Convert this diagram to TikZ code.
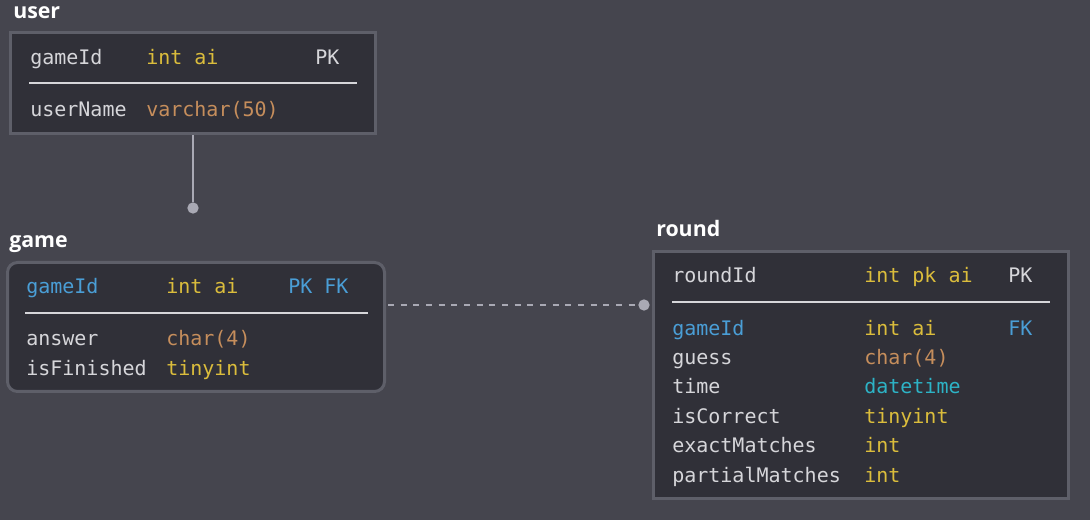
\documentclass[tikz,border=0pt]{standalone}
\usepackage{fontspec}
\setmainfont{Open Sans}
\setmonofont{DejaVu Sans Mono}
\usetikzlibrary{positioning}
\definecolor{ERBack}{HTML}{45454E}
\definecolor{ERPanel}{HTML}{303038}
\definecolor{ERBorder}{HTML}{5E5F69}
\definecolor{ERText}{HTML}{D6D6DA}
\definecolor{ERYellow}{HTML}{DBBD3C}
\definecolor{EROrange}{HTML}{C68E5C}
\definecolor{ERCyan}{HTML}{2DB3C6}
\definecolor{ERBlue}{HTML}{4A9ED6}
\definecolor{ERLink}{HTML}{A9A9B4}

\begin{document}
\begin{tikzpicture}[
    x=0.75pt, y=-0.75pt,
    tbl/.style={
      draw=ERBorder,
      fill=ERPanel,
      line width=2.25pt,
      inner sep=0pt
    },
    ttl/.style={
      anchor=mid west,
      inner sep=0pt,
      yshift=-3pt,
      text=white,
      font=\bfseries\fontsize{16}{19}\selectfont
    },
    fld/.style={
      anchor=mid west,
      inner sep=0pt,
      yshift=-3pt,
      text=#1,
      font=\ttfamily\fontsize{15}{18}\selectfont
    },
    fld/.default=ERText,
    sep/.style={
      draw=ERText,
      line width=1.5pt
    },
    dot/.style={
      circle,
      fill=ERLink,
      inner sep=0pt,
      minimum size=8.5pt
    },
    link/.style={
      draw=ERLink,
      line width=1.5pt
    }
  ]

  % canvas
  \fill[ERBack] (0,0) rectangle (1090,520);
  \useasboundingbox (0,0) rectangle (1090,520);

  % user
  \node[ttl] (userT) at (13,11) {user};
  \node[tbl, minimum width=273.75pt, minimum height=75.75pt] (user) at (193,83) {};
  \node[fld]          (u1n) at (30,57)  {gameId};
  \node[fld=ERYellow] (u1t) at (146,57) {int ai};
  \node[fld]          (u1k) at (315,57) {PK};
  \draw[sep] (29,83) -- (357,83);
  \node[fld]          (u2n) at (30,109)  {userName};
  \node[fld=EROrange] (u2t) at (146,109) {varchar(50)};

  % game
  \node[ttl] (gameT) at (9,240) {game};
  \node[tbl, rounded corners=7.5pt, minimum width=282.75pt, minimum height=96.75pt] (game) at (196,327) {};
  \node[fld=ERBlue]   (g1n) at (26,286)  {gameId};
  \node[fld=ERYellow] (g1t) at (166,286) {int ai};
  \node[fld=ERBlue]   (g1k) at (288,286) {PK FK};
  \draw[sep] (25,313) -- (368,313);
  \node[fld]          (g2n) at (26,338)  {answer};
  \node[fld=EROrange] (g2t) at (166,338) {char(4)};
  \node[fld]          (g3n) at (26,368)  {isFinished};
  \node[fld=ERYellow] (g3t) at (166,368) {tinyint};

  % round
  \node[ttl] (roundT) at (656,229) {round};
  \node[tbl, minimum width=311.25pt, minimum height=185.25pt] (round) at (861,375) {};
  \node[fld]          (r1n) at (672,275)  {roundId};
  \node[fld=ERYellow] (r1t) at (864,275)  {int pk ai};
  \node[fld]          (r1k) at (1008,275) {PK};
  \draw[sep] (672,302) -- (1050,302);
  \node[fld=ERBlue]   (r2n) at (672,328)  {gameId};
  \node[fld=ERYellow] (r2t) at (864,328)  {int ai};
  \node[fld=ERBlue]   (r2k) at (1008,328) {FK};
  \node[fld]          (r3n) at (672,357)  {guess};
  \node[fld=EROrange] (r3t) at (864,357)  {char(4)};
  \node[fld]          (r4n) at (672,386)  {time};
  \node[fld=ERCyan]   (r4t) at (864,386)  {datetime};
  \node[fld]          (r5n) at (672,416)  {isCorrect};
  \node[fld=ERYellow] (r5t) at (864,416)  {tinyint};
  \node[fld]          (r6n) at (672,445)  {exactMatches};
  \node[fld=ERYellow] (r6t) at (864,445)  {int};
  \node[fld]          (r7n) at (672,475)  {partialMatches};
  \node[fld=ERYellow] (r7t) at (864,475)  {int};

  % links
  \node[dot] (ugDot) at (193,208) {};
  \node[dot] (grDot) at (644,305) {};
  \draw[link] (user) -- (ugDot);
  \draw[link, dash pattern=on 4.5pt off 5pt] ([xshift=1.5pt]game.east |- grDot) -- (grDot);

\end{tikzpicture}
\end{document}
